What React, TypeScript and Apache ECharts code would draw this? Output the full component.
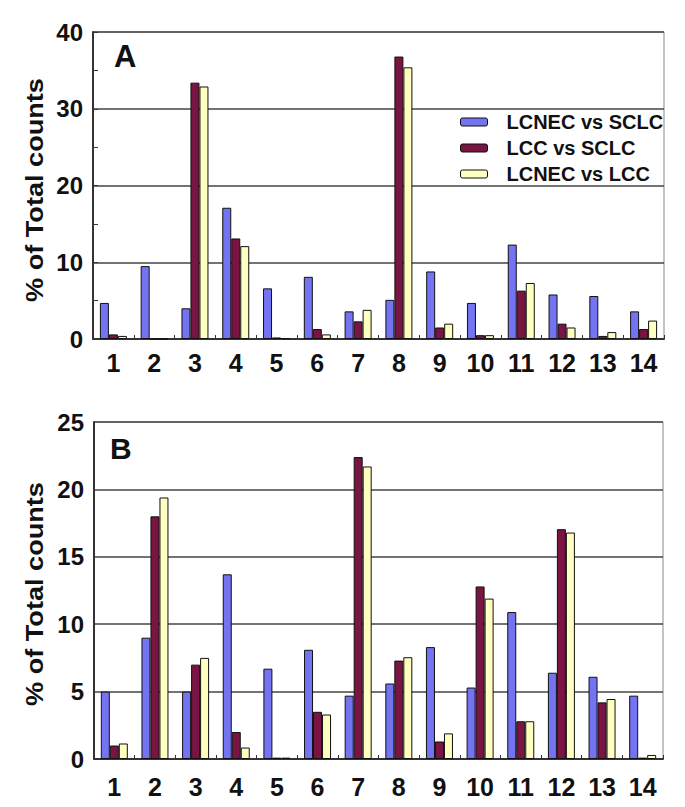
import React, { useEffect, useRef } from "react";
import * as echarts from "echarts";

const categories = ["1", "2", "3", "4", "5", "6", "7", "8", "9", "10", "11", "12", "13", "14"];
const seriesNames = ["LCNEC vs SCLC", "LCC vs SCLC", "LCNEC vs LCC"];

// Panel A
const aLcnecSclc = [4.7, 9.5, 4.0, 17.1, 6.6, 8.1, 3.6, 5.1, 8.8, 4.7, 12.3, 5.8, 5.6, 3.6];
const aLccSclc = [0.6, 0, 33.4, 13.1, 0.2, 1.3, 2.3, 36.8, 1.5, 0.5, 6.3, 2.0, 0.4, 1.3];
const aLcnecLcc = [0.4, 0, 32.9, 12.1, 0.1, 0.6, 3.8, 35.4, 2.0, 0.5, 7.3, 1.5, 0.9, 2.4];

// Panel B
const bLcnecSclc = [5.0, 9.0, 5.0, 13.7, 6.7, 8.1, 4.7, 5.6, 8.3, 5.3, 10.9, 6.4, 6.1, 4.7];
const bLccSclc = [1.0, 18.0, 7.0, 2.0, 0.1, 3.5, 22.4, 7.3, 1.3, 12.8, 2.8, 17.05, 4.2, 0.1];
const bLcnecLcc = [1.15, 19.4, 7.5, 0.85, 0.1, 3.3, 21.7, 7.55, 1.9, 11.9, 2.8, 16.8, 4.45, 0.3];

const yTicksA = [0, 10, 20, 30, 40];
const yTicksB = [0, 5, 10, 15, 20, 25];

const colors = ["#7474F2", "#7A1442", "#FFFFC0"];
const FONT = "'Liberation Sans', Arial, sans-serif";

export default function App() {
  const ref = useRef<HTMLDivElement>(null);
  useEffect(() => {
    if (!ref.current) return;
    const chart = echarts.init(ref.current, null, { renderer: "svg" });

    const mkX = (gridIndex: number, margin: number) => ({
      type: "category",
      gridIndex,
      data: categories,
      axisLine: { lineStyle: { color: "#333", width: 2 } },
      axisTick: { show: true, inside: true, length: 4, lineStyle: { color: "#333" } },
      axisLabel: { color: "#111", fontFamily: FONT, fontWeight: "bold", fontSize: 25, margin, interval: 0 },
      splitLine: { show: false },
    });
    const mkY = (gridIndex: number, ticks: number[], minor: boolean) => ({
      type: "value",
      gridIndex,
      min: ticks[0],
      max: ticks[ticks.length - 1],
      interval: ticks[1] - ticks[0],
      axisLine: { show: true, lineStyle: { color: "#333", width: 2 } },
      axisTick: { show: minor, inside: true, length: 5, lineStyle: { color: "#333" } },
      minorTick: { show: minor, splitNumber: 2, length: 5, lineStyle: { color: "#333" } },
      axisLabel: { color: "#111", fontFamily: FONT, fontWeight: "bold", fontSize: 24, margin: 10 },
      splitLine: { show: true, lineStyle: { color: "#444", width: 1.6 } },
    });
    const mkBar = (name: string, data: number[], i: number, axisIndex: number) => ({
      type: "bar",
      name,
      data,
      xAxisIndex: axisIndex,
      yAxisIndex: axisIndex,
      barWidth: 9,
      barGap: "0%",
      itemStyle: { color: colors[i], borderColor: "#111", borderWidth: 1 },
    });

    chart.setOption({
      animation: false,
      backgroundColor: "#fff",
      grid: [
        { left: 93, top: 32, width: 571, height: 307, show: true, borderColor: "#888", borderWidth: 1, backgroundColor: "#fff" },
        { left: 94, top: 422, width: 569, height: 337, show: true, borderColor: "#888", borderWidth: 1, backgroundColor: "#fff" },
      ],
      xAxis: [mkX(0, 11), mkX(1, 15)],
      yAxis: [mkY(0, yTicksA, true), mkY(1, yTicksB, false)],
      legend: {
        data: seriesNames,
        orient: "vertical",
        left: 455,
        top: 107,
        itemWidth: 27,
        itemHeight: 8,
        itemGap: 6,
        selectedMode: false,
        textStyle: { fontFamily: FONT, fontWeight: "bold", fontSize: 20, color: "#111", lineHeight: 20, padding: [0, 0, 0, 14] },
        itemStyle: { borderColor: "#111", borderWidth: 1 },
      },
      graphic: [
        { type: "text", x: 114, y: 56, style: { text: "A", font: `bold 31px ${FONT}`, fill: "#111", verticalAlign: "middle" } },
        { type: "text", x: 110, y: 448, style: { text: "B", font: `bold 30px ${FONT}`, fill: "#111", verticalAlign: "middle" } },
        { type: "text", x: 35, y: 190, rotation: Math.PI / 2, scaleX: 1.13, style: { text: "% of Total counts", font: `bold 24px ${FONT}`, fill: "#111", align: "center", verticalAlign: "middle" } },
        { type: "text", x: 35, y: 594, rotation: Math.PI / 2, scaleX: 1.13, style: { text: "% of Total counts", font: `bold 24px ${FONT}`, fill: "#111", align: "center", verticalAlign: "middle" } },
      ],
      series: [
        mkBar(seriesNames[0], aLcnecSclc, 0, 0),
        mkBar(seriesNames[1], aLccSclc, 1, 0),
        mkBar(seriesNames[2], aLcnecLcc, 2, 0),
        mkBar(seriesNames[0], bLcnecSclc, 0, 1),
        mkBar(seriesNames[1], bLccSclc, 1, 1),
        mkBar(seriesNames[2], bLcnecLcc, 2, 1),
      ],
    });
    return () => chart.dispose();
  }, []);
  return <div ref={ref} style={{ position: "absolute", left: 0, top: 0, width: 685, height: 807 }} />;
}
